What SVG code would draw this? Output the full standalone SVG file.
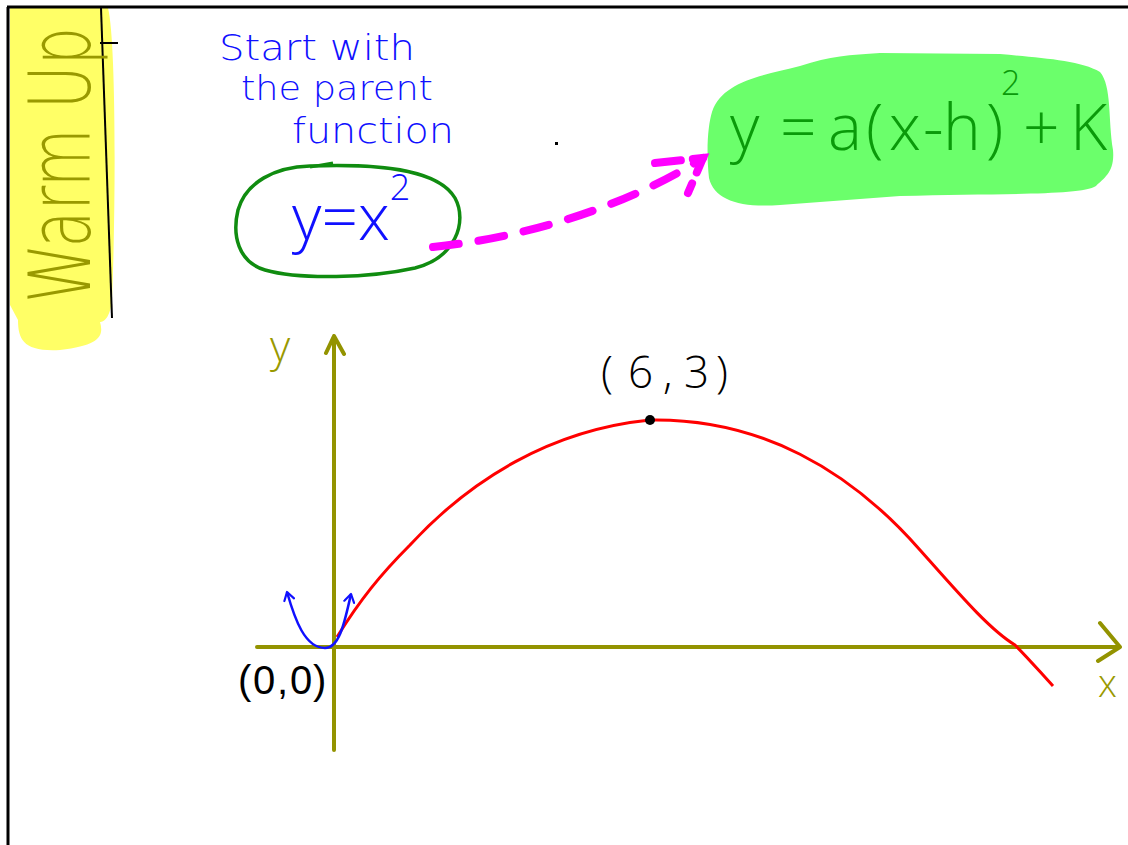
<svg xmlns="http://www.w3.org/2000/svg" width="1128" height="845" viewBox="0 0 1128 845">
<style>
.hand{font-family:"Open Sans","Liberation Sans",sans-serif;font-weight:300}
.dv{font-family:"DejaVu Sans","Liberation Sans",sans-serif;font-weight:200}
.lib{font-family:"Liberation Sans",Arial,sans-serif;font-weight:400}
.olive{fill:#999900}
.blue{fill:#1010ff}
.blk{fill:#000}
.grn{fill:#0a9a0a}
.axis{stroke:#939300;stroke-width:4;fill:none;stroke-linecap:round;stroke-linejoin:round}
</style>
<defs>
<marker id="bluehead" viewBox="0 0 12 12" refX="10" refY="6" markerWidth="12" markerHeight="12" markerUnits="userSpaceOnUse" orient="auto-start-reverse">
<path d="M2,1 L10,6 L2,11" fill="none" stroke="#1010ff" stroke-width="2.2" stroke-linecap="round" stroke-linejoin="round"/>
</marker>
</defs>
<rect width="1128" height="845" fill="#fff"/>

<g id="warm-up">
<path d="M10,8 L108,8 C116,40 116,200 112,300 C110,318 104,322 100,322 C104,336 100,345 60,350 C24,352 18,340 18,320 L10,305 Z" fill="#ffff66"/>
<line x1="101" y1="8" x2="112" y2="318" stroke="#000" stroke-width="2"/>
<line x1="100" y1="43" x2="118" y2="43" stroke="#000" stroke-width="2"/>
<text class="dv olive" transform="translate(90,303) rotate(-90)" font-size="86" textLength="276" lengthAdjust="spacingAndGlyphs">Warm Up</text>
</g>

<g id="frame" stroke="#000" stroke-width="3">
<line x1="7" y1="7" x2="1128" y2="7"/>
<line x1="8" y1="7" x2="8" y2="845"/>
</g>

<g id="start-note" class="dv blue">
<text x="219" y="60" font-size="36" textLength="196" lengthAdjust="spacingAndGlyphs">Start with</text>
<text x="241" y="100" font-size="34" textLength="192" lengthAdjust="spacingAndGlyphs">the parent</text>
<text x="292" y="143" font-size="36" textLength="162" lengthAdjust="spacingAndGlyphs">function</text>
</g>

<rect x="555" y="142" width="3" height="3" fill="#000"/>

<g id="parent-function">
<path d="M310,166 C390,163 440,172 455,198 C468,222 455,258 415,268 C370,278 300,280 265,270 C238,262 232,235 238,210 C246,182 275,167 310,166 Z" fill="none" stroke="#108c10" stroke-width="3.5"/>
<line x1="310" y1="167" x2="333" y2="163" stroke="#108c10" stroke-width="3"/>
<text class="hand blue" x="292" y="240" font-size="64">y=x<tspan dy="-40" font-size="36">2</tspan></text>
</g>

<g id="vertex-form">
<path d="M712,112 C722,82 760,76 800,66 C830,56 850,55 880,53 L1000,54 C1040,58 1080,60 1100,72 C1112,86 1108,120 1113,150 C1115,172 1104,178 1096,186 C1080,196 1000,193 900,196 L780,205 C740,208 714,200 709,178 C706,150 708,125 712,112 Z" fill="#6bff6b"/>
<text class="hand grn" y="150" font-size="64"><tspan x="730">y</tspan><tspan x="780">=</tspan><tspan x="828">a</tspan><tspan x="866">(</tspan><tspan x="889">x</tspan><tspan x="923">-</tspan><tspan x="943">h</tspan><tspan x="986">)</tspan><tspan x="1001" y="95" font-size="34">2</tspan><tspan x="1023" y="150">+</tspan><tspan x="1070">K</tspan></text>
</g>

<g id="connectors" fill="none" stroke="#ff00ff" stroke-width="8" stroke-linecap="round">
<path d="M433,247 C520,238 620,210 703,158" stroke-dasharray="26,20"/>
<path d="M655,163 L703,158 L688,193" stroke-dasharray="26,12"/>
</g>

<g id="graph">
<path class="axis" d="M334,750 L334,336 M326,353 L334,336 L344,354"/>
<path class="axis" d="M257,647 L1120,647 M1100,623 L1120,647 L1098,661"/>
<text class="hand olive" x="270" y="362" font-size="44" font-weight="400">y</text>
<text class="hand olive" x="1098" y="697" font-size="38" font-weight="400">x</text>
<path d="M337,637 C360,600 380,575 410,545 C470,480 550,430 650,420 C760,418 850,470 920,550 C960,595 990,630 1015,645 C1030,660 1040,672 1053,686" fill="none" stroke="#ff0000" stroke-width="3"/>
<circle cx="650" cy="420" r="5" fill="#000"/>
<path d="M287,592 C295,620 305,648 325,648 C340,648 345,620 351,594" fill="none" stroke="#1010ff" stroke-width="2.5" marker-start="url(#bluehead)" marker-end="url(#bluehead)"/>
<text class="hand blk" y="388" font-size="44"><tspan x="601">(</tspan><tspan x="628">6</tspan><tspan x="663">,</tspan><tspan x="684">3</tspan><tspan x="716">)</tspan></text>
<text class="lib blk" y="694" font-size="40"><tspan x="238">(</tspan><tspan x="253">0</tspan><tspan x="277">,</tspan><tspan x="290">0</tspan><tspan x="313">)</tspan></text>
</g>
</svg>
